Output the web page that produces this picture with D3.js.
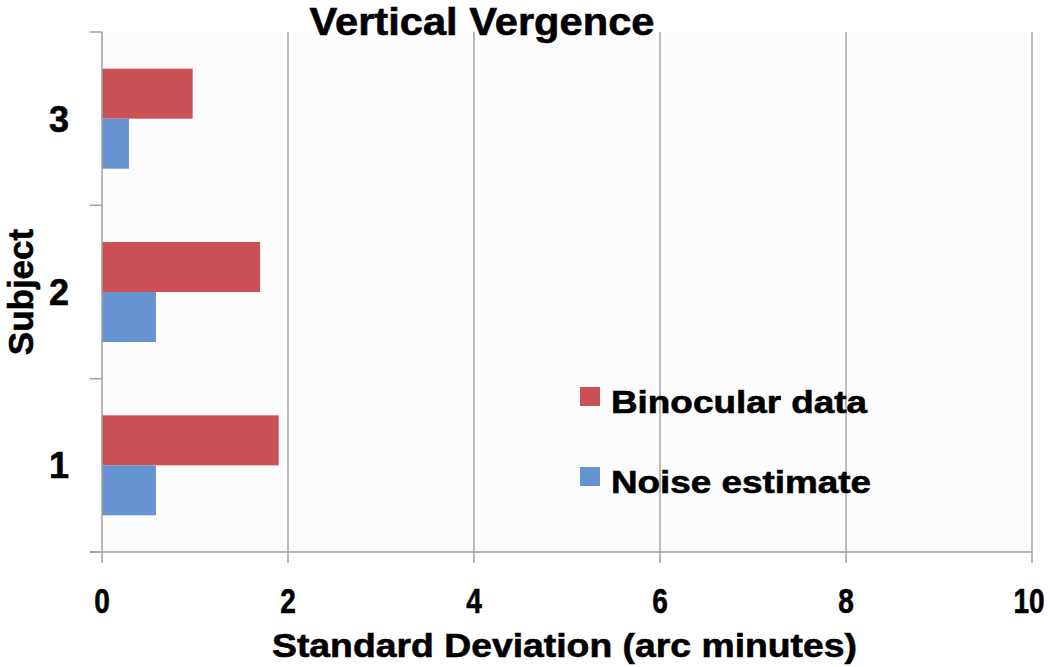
<!DOCTYPE html>
<html>
<head>
<meta charset="utf-8">
<script src="https://cdn.jsdelivr.net/npm/d3@7"></script>
<style>
  html, body { margin: 0; padding: 0; background: #ffffff; }
  svg { display: block; }
  text { font-family: "Liberation Sans", Arial, Helvetica, sans-serif; font-weight: bold; fill: #000; stroke: #000; stroke-width: 0.6px; }
</style>
</head>
<body>
<script>
// ---- data ----
const subjects = ["3", "2", "1"];           // top to bottom
const binocular = [0.975, 1.70, 1.90];      // Binocular data (per subject above)
const noise = [0.29, 0.58, 0.58];           // Noise estimate
const seriesNames = ["Binocular data", "Noise estimate"];
const seriesColors = ["#cc5157", "#6694d0"];
const xTicks = [0, 2, 4, 6, 8, 10];
const chartTitle = "Vertical Vergence";
const xTitle = "Standard Deviation (arc minutes)";
const yTitle = "Subject";

const W = 1050, H = 667;
const svg = d3.select("body").append("svg").attr("width", W).attr("height", H);

const x = d3.scaleLinear().domain([0, 10]).range([102, 1032]);
const y = d3.scaleBand().domain(subjects).range([32, 552])
  .paddingInner(0.423).paddingOuter(0.2115);
const ySub = d3.scaleBand().domain(seriesNames).range([0, y.bandwidth()]);
const color = d3.scaleOrdinal().domain(seriesNames).range(seriesColors);

// plot background
svg.append("rect").attr("x", x(0)).attr("y", 32)
  .attr("width", x(10) - x(0)).attr("height", 520).attr("fill", "#fcfcfc");

// vertical gridlines
svg.append("g").selectAll("line").data(xTicks.filter(d => d > 0)).join("line")
  .attr("x1", d => x(d)).attr("x2", d => x(d))
  .attr("y1", 32).attr("y2", 552)
  .attr("stroke", "#a6a6a6").attr("stroke-width", 1.5);

// bars
const rows = subjects.map((s, i) => ({ s, vals: [binocular[i], noise[i]] }));
const g = svg.append("g").selectAll("g").data(rows).join("g")
  .attr("transform", d => `translate(0,${y(d.s)})`);
g.selectAll("rect").data(d => d.vals.map((v, k) => ({ k: seriesNames[k], v }))).join("rect")
  .attr("x", x(0)).attr("y", d => ySub(d.k))
  .attr("width", d => x(d.v) - x(0)).attr("height", ySub.bandwidth())
  .attr("fill", d => color(d.k));

// axes lines
const axisCol = "#a0a0a0";
svg.append("line").attr("x1", x(0)).attr("x2", x(0)).attr("y1", 32).attr("y2", 552)
  .attr("stroke", axisCol).attr("stroke-width", 1.5);
svg.append("line").attr("x1", 90).attr("x2", x(10)).attr("y1", 552).attr("y2", 552)
  .attr("stroke", axisCol).attr("stroke-width", 1.5);
// y category boundary ticks
const yr = y.range();
const bounds = d3.range(subjects.length + 1).map(i => yr[0] + i * (yr[1] - yr[0]) / subjects.length);
svg.append("g").selectAll("line").data(bounds).join("line")
  .attr("x1", 90).attr("x2", x(0)).attr("y1", d => d).attr("y2", d => d)
  .attr("stroke", axisCol).attr("stroke-width", 1.5);
// x ticks
svg.append("g").selectAll("line").data(xTicks).join("line")
  .attr("x1", d => x(d)).attr("x2", d => x(d)).attr("y1", 552).attr("y2", 563)
  .attr("stroke", axisCol).attr("stroke-width", 1.5);

// x tick labels (horizontally condensed like the reference)
svg.append("g").selectAll("text").data(xTicks).join("text")
  .attr("transform", d => `translate(${d === 10 ? x(d) - 3 : x(d)},613) scale(0.8,1)`)
  .attr("text-anchor", "middle")
  .attr("font-size", 35).text(d => d);

// y tick labels
svg.append("g").selectAll("text").data(subjects).join("text")
  .attr("x", 59).attr("y", d => y(d) + y.bandwidth() / 2 + 13)
  .attr("text-anchor", "middle").attr("font-size", 36).text(d => d);

// title
svg.append("text").attr("x", 482).attr("y", 35).attr("text-anchor", "middle")
  .attr("font-size", 38).attr("textLength", 345).attr("lengthAdjust", "spacingAndGlyphs")
  .text(chartTitle);

// x axis title
svg.append("text").attr("x", 564.5).attr("y", 657).attr("text-anchor", "middle")
  .attr("font-size", 33).attr("textLength", 585).attr("lengthAdjust", "spacingAndGlyphs")
  .text(xTitle);

// y axis title
svg.append("text").attr("transform", "translate(33,292) rotate(-90)")
  .attr("text-anchor", "middle").attr("font-size", 35).text(yTitle);

// legend
const legY = [413, 493];
const legLen = [256, 260];
const leg = svg.append("g").selectAll("g").data(seriesNames).join("g");
leg.append("rect").attr("x", 580).attr("y", (d, i) => legY[i] - 26)
  .attr("width", 20).attr("height", 19).attr("fill", d => color(d));
leg.append("text").attr("x", 611).attr("y", (d, i) => legY[i])
  .attr("font-size", 32).attr("textLength", (d, i) => legLen[i]).attr("lengthAdjust", "spacingAndGlyphs")
  .text(d => d);
</script>
</body>
</html>
